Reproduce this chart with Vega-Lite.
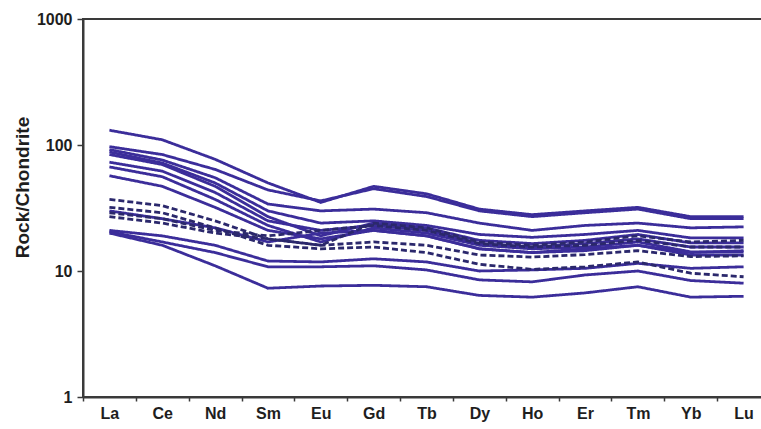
{
  "$schema": "https://vega.github.io/schema/vega-lite/v6.json",
  "width": 687,
  "height": 378,
  "autosize": {"type": "none"},
  "padding": {"left": 83, "top": 19, "right": 0, "bottom": 32},
  "background": "white",
  "config": {
    "view": {"stroke": "#3a3a3a", "strokeWidth": 2},
    "axis": {
      "labelFont": "Liberation Sans",
      "labelFontWeight": "bold",
      "labelFontSize": 16,
      "labelColor": "#1e1e1e",
      "titleFont": "Liberation Sans",
      "titleFontWeight": "bold",
      "titleFontSize": 19,
      "titleColor": "#1e1e1e",
      "domainColor": "#3a3a3a",
      "domainWidth": 2,
      "tickColor": "#3a3a3a",
      "tickWidth": 1.5,
      "grid": false
    }
  },
  "data": {
    "values": [
      {"sample":"A","style":"solid","element":"La","value":131},{"sample":"A","style":"solid","element":"Ce","value":110},{"sample":"A","style":"solid","element":"Nd","value":77},{"sample":"A","style":"solid","element":"Sm","value":50},{"sample":"A","style":"solid","element":"Eu","value":35},{"sample":"A","style":"solid","element":"Gd","value":47},{"sample":"A","style":"solid","element":"Tb","value":41},{"sample":"A","style":"solid","element":"Dy","value":31},{"sample":"A","style":"solid","element":"Ho","value":28},{"sample":"A","style":"solid","element":"Er","value":30},{"sample":"A","style":"solid","element":"Tm","value":32},{"sample":"A","style":"solid","element":"Yb","value":27},{"sample":"A","style":"solid","element":"Lu","value":27},
      {"sample":"B","style":"solid","element":"La","value":97},{"sample":"B","style":"solid","element":"Ce","value":84},{"sample":"B","style":"solid","element":"Nd","value":64},{"sample":"B","style":"solid","element":"Sm","value":44},{"sample":"B","style":"solid","element":"Eu","value":36},{"sample":"B","style":"solid","element":"Gd","value":45},{"sample":"B","style":"solid","element":"Tb","value":39},{"sample":"B","style":"solid","element":"Dy","value":30},{"sample":"B","style":"solid","element":"Ho","value":27},{"sample":"B","style":"solid","element":"Er","value":29},{"sample":"B","style":"solid","element":"Tm","value":31},{"sample":"B","style":"solid","element":"Yb","value":26},{"sample":"B","style":"solid","element":"Lu","value":26},
      {"sample":"C","style":"solid","element":"La","value":92},{"sample":"C","style":"solid","element":"Ce","value":76},{"sample":"C","style":"solid","element":"Nd","value":55},{"sample":"C","style":"solid","element":"Sm","value":34},{"sample":"C","style":"solid","element":"Eu","value":30},{"sample":"C","style":"solid","element":"Gd","value":31},{"sample":"C","style":"solid","element":"Tb","value":29},{"sample":"C","style":"solid","element":"Dy","value":24},{"sample":"C","style":"solid","element":"Ho","value":21},{"sample":"C","style":"solid","element":"Er","value":23},{"sample":"C","style":"solid","element":"Tm","value":24},{"sample":"C","style":"solid","element":"Yb","value":22},{"sample":"C","style":"solid","element":"Lu","value":22.4},
      {"sample":"D","style":"solid","element":"La","value":88},{"sample":"D","style":"solid","element":"Ce","value":72},{"sample":"D","style":"solid","element":"Nd","value":50},{"sample":"D","style":"solid","element":"Sm","value":30},{"sample":"D","style":"solid","element":"Eu","value":24},{"sample":"D","style":"solid","element":"Gd","value":25},{"sample":"D","style":"solid","element":"Tb","value":23},{"sample":"D","style":"solid","element":"Dy","value":19.5},{"sample":"D","style":"solid","element":"Ho","value":18.5},{"sample":"D","style":"solid","element":"Er","value":19.5},{"sample":"D","style":"solid","element":"Tm","value":21},{"sample":"D","style":"solid","element":"Yb","value":18.3},{"sample":"D","style":"solid","element":"Lu","value":18.3},
      {"sample":"E","style":"solid","element":"La","value":84},{"sample":"E","style":"solid","element":"Ce","value":70},{"sample":"E","style":"solid","element":"Nd","value":47},{"sample":"E","style":"solid","element":"Sm","value":27},{"sample":"E","style":"solid","element":"Eu","value":19},{"sample":"E","style":"solid","element":"Gd","value":24},{"sample":"E","style":"solid","element":"Tb","value":22},{"sample":"E","style":"solid","element":"Dy","value":17.5},{"sample":"E","style":"solid","element":"Ho","value":16.5},{"sample":"E","style":"solid","element":"Er","value":17.5},{"sample":"E","style":"solid","element":"Tm","value":19.5},{"sample":"E","style":"solid","element":"Yb","value":16.7},{"sample":"E","style":"solid","element":"Lu","value":16.7},
      {"sample":"F","style":"solid","element":"La","value":73},{"sample":"F","style":"solid","element":"Ce","value":62},{"sample":"F","style":"solid","element":"Nd","value":42},{"sample":"F","style":"solid","element":"Sm","value":25},{"sample":"F","style":"solid","element":"Eu","value":21},{"sample":"F","style":"solid","element":"Gd","value":23},{"sample":"F","style":"solid","element":"Tb","value":21},{"sample":"F","style":"solid","element":"Dy","value":16.5},{"sample":"F","style":"solid","element":"Ho","value":15.5},{"sample":"F","style":"solid","element":"Er","value":16.5},{"sample":"F","style":"solid","element":"Tm","value":18},{"sample":"F","style":"solid","element":"Yb","value":15.5},{"sample":"F","style":"solid","element":"Lu","value":15.5},
      {"sample":"G","style":"solid","element":"La","value":67},{"sample":"G","style":"solid","element":"Ce","value":56},{"sample":"G","style":"solid","element":"Nd","value":37},{"sample":"G","style":"solid","element":"Sm","value":23},{"sample":"G","style":"solid","element":"Eu","value":17},{"sample":"G","style":"solid","element":"Gd","value":22},{"sample":"G","style":"solid","element":"Tb","value":20},{"sample":"G","style":"solid","element":"Dy","value":16},{"sample":"G","style":"solid","element":"Ho","value":15},{"sample":"G","style":"solid","element":"Er","value":15.5},{"sample":"G","style":"solid","element":"Tm","value":17},{"sample":"G","style":"solid","element":"Yb","value":14.2},{"sample":"G","style":"solid","element":"Lu","value":14.2},
      {"sample":"H","style":"solid","element":"La","value":57},{"sample":"H","style":"solid","element":"Ce","value":47},{"sample":"H","style":"solid","element":"Nd","value":32},{"sample":"H","style":"solid","element":"Sm","value":21},{"sample":"H","style":"solid","element":"Eu","value":18},{"sample":"H","style":"solid","element":"Gd","value":21},{"sample":"H","style":"solid","element":"Tb","value":19},{"sample":"H","style":"solid","element":"Dy","value":15},{"sample":"H","style":"solid","element":"Ho","value":14},{"sample":"H","style":"solid","element":"Er","value":15},{"sample":"H","style":"solid","element":"Tm","value":16},{"sample":"H","style":"solid","element":"Yb","value":13.4},{"sample":"H","style":"solid","element":"Lu","value":13.4},
      {"sample":"I","style":"solid","element":"La","value":30},{"sample":"I","style":"solid","element":"Ce","value":26},{"sample":"I","style":"solid","element":"Nd","value":22},{"sample":"I","style":"solid","element":"Sm","value":17},{"sample":"I","style":"solid","element":"Eu","value":20},{"sample":"I","style":"solid","element":"Gd","value":21},{"sample":"I","style":"solid","element":"Tb","value":19},{"sample":"I","style":"solid","element":"Dy","value":15},{"sample":"I","style":"solid","element":"Ho","value":14},{"sample":"I","style":"solid","element":"Er","value":14.5},{"sample":"I","style":"solid","element":"Tm","value":16},{"sample":"I","style":"solid","element":"Yb","value":14},{"sample":"I","style":"solid","element":"Lu","value":14.5},
      {"sample":"J","style":"solid","element":"La","value":21},{"sample":"J","style":"solid","element":"Ce","value":19},{"sample":"J","style":"solid","element":"Nd","value":16},{"sample":"J","style":"solid","element":"Sm","value":12},{"sample":"J","style":"solid","element":"Eu","value":11.8},{"sample":"J","style":"solid","element":"Gd","value":12.5},{"sample":"J","style":"solid","element":"Tb","value":11.8},{"sample":"J","style":"solid","element":"Dy","value":10},{"sample":"J","style":"solid","element":"Ho","value":10.2},{"sample":"J","style":"solid","element":"Er","value":10.5},{"sample":"J","style":"solid","element":"Tm","value":11.5},{"sample":"J","style":"solid","element":"Yb","value":10.5},{"sample":"J","style":"solid","element":"Lu","value":10.8},
      {"sample":"K","style":"solid","element":"La","value":20.5},{"sample":"K","style":"solid","element":"Ce","value":17},{"sample":"K","style":"solid","element":"Nd","value":14},{"sample":"K","style":"solid","element":"Sm","value":10.8},{"sample":"K","style":"solid","element":"Eu","value":10.8},{"sample":"K","style":"solid","element":"Gd","value":11},{"sample":"K","style":"solid","element":"Tb","value":10.2},{"sample":"K","style":"solid","element":"Dy","value":8.5},{"sample":"K","style":"solid","element":"Ho","value":8.2},{"sample":"K","style":"solid","element":"Er","value":9.3},{"sample":"K","style":"solid","element":"Tm","value":10},{"sample":"K","style":"solid","element":"Yb","value":8.4},{"sample":"K","style":"solid","element":"Lu","value":8.0},
      {"sample":"L","style":"solid","element":"La","value":20},{"sample":"L","style":"solid","element":"Ce","value":16},{"sample":"L","style":"solid","element":"Nd","value":11},{"sample":"L","style":"solid","element":"Sm","value":7.3},{"sample":"L","style":"solid","element":"Eu","value":7.6},{"sample":"L","style":"solid","element":"Gd","value":7.7},{"sample":"L","style":"solid","element":"Tb","value":7.5},{"sample":"L","style":"solid","element":"Dy","value":6.4},{"sample":"L","style":"solid","element":"Ho","value":6.2},{"sample":"L","style":"solid","element":"Er","value":6.7},{"sample":"L","style":"solid","element":"Tm","value":7.5},{"sample":"L","style":"solid","element":"Yb","value":6.2},{"sample":"L","style":"solid","element":"Lu","value":6.3},
      {"sample":"M","style":"dashed","element":"La","value":37},{"sample":"M","style":"dashed","element":"Ce","value":33},{"sample":"M","style":"dashed","element":"Nd","value":25},{"sample":"M","style":"dashed","element":"Sm","value":18},{"sample":"M","style":"dashed","element":"Eu","value":16},{"sample":"M","style":"dashed","element":"Gd","value":17},{"sample":"M","style":"dashed","element":"Tb","value":16},{"sample":"M","style":"dashed","element":"Dy","value":13.4},{"sample":"M","style":"dashed","element":"Ho","value":12.9},{"sample":"M","style":"dashed","element":"Er","value":13.5},{"sample":"M","style":"dashed","element":"Tm","value":14.5},{"sample":"M","style":"dashed","element":"Yb","value":13},{"sample":"M","style":"dashed","element":"Lu","value":13.2},
      {"sample":"N","style":"dashed","element":"La","value":32},{"sample":"N","style":"dashed","element":"Ce","value":29},{"sample":"N","style":"dashed","element":"Nd","value":22},{"sample":"N","style":"dashed","element":"Sm","value":16},{"sample":"N","style":"dashed","element":"Eu","value":15},{"sample":"N","style":"dashed","element":"Gd","value":15.5},{"sample":"N","style":"dashed","element":"Tb","value":14},{"sample":"N","style":"dashed","element":"Dy","value":11.3},{"sample":"N","style":"dashed","element":"Ho","value":10.3},{"sample":"N","style":"dashed","element":"Er","value":10.8},{"sample":"N","style":"dashed","element":"Tm","value":11.8},{"sample":"N","style":"dashed","element":"Yb","value":9.6},{"sample":"N","style":"dashed","element":"Lu","value":9.0},
      {"sample":"O","style":"dashed","element":"La","value":29},{"sample":"O","style":"dashed","element":"Ce","value":26},{"sample":"O","style":"dashed","element":"Nd","value":21},{"sample":"O","style":"dashed","element":"Sm","value":19},{"sample":"O","style":"dashed","element":"Eu","value":21},{"sample":"O","style":"dashed","element":"Gd","value":23},{"sample":"O","style":"dashed","element":"Tb","value":21},{"sample":"O","style":"dashed","element":"Dy","value":16.5},{"sample":"O","style":"dashed","element":"Ho","value":15.5},{"sample":"O","style":"dashed","element":"Er","value":16},{"sample":"O","style":"dashed","element":"Tm","value":17.5},{"sample":"O","style":"dashed","element":"Yb","value":15.5},{"sample":"O","style":"dashed","element":"Lu","value":15.5},
      {"sample":"P","style":"dashed","element":"La","value":27},{"sample":"P","style":"dashed","element":"Ce","value":24},{"sample":"P","style":"dashed","element":"Nd","value":20},{"sample":"P","style":"dashed","element":"Sm","value":18},{"sample":"P","style":"dashed","element":"Eu","value":16},{"sample":"P","style":"dashed","element":"Gd","value":24},{"sample":"P","style":"dashed","element":"Tb","value":22},{"sample":"P","style":"dashed","element":"Dy","value":17},{"sample":"P","style":"dashed","element":"Ho","value":16},{"sample":"P","style":"dashed","element":"Er","value":17},{"sample":"P","style":"dashed","element":"Tm","value":19},{"sample":"P","style":"dashed","element":"Yb","value":17},{"sample":"P","style":"dashed","element":"Lu","value":17.5}
    ]
  },
  "mark": {"type": "line", "strokeWidth": 2.8},
  "encoding": {
    "x": {
      "field": "element",
      "type": "nominal",
      "bandPosition": 0.5,
      "scale": {"type": "band", "domain": ["La","Ce","Nd","Sm","Eu","Gd","Tb","Dy","Ho","Er","Tm","Yb","Lu"], "paddingInner": 0, "paddingOuter": 0},
      "axis": {"title": null, "labelAngle": 0, "tickBand": "extent", "tickSize": 4, "labelPadding": 4}
    },
    "y": {
      "field": "value",
      "type": "quantitative",
      "scale": {"type": "log", "domain": [1, 1000]},
      "axis": {"title": "Rock/Chondrite", "values": [1, 10, 100, 1000], "format": "d", "tickSize": 6, "labelPadding": 5, "titleX": -51, "titleY": 168, "titleBaseline": "bottom", "titleAngle": 270}
    },
    "detail": {"field": "sample"},
    "strokeDash": {"field": "style", "type": "nominal", "scale": {"domain": ["solid","dashed"], "range": [[1,0],[6,3]]}, "legend": null},
    "color": {"field": "style", "type": "nominal", "scale": {"domain": ["solid","dashed"], "range": ["#3b2d9a","#2b286c"]}, "legend": null}
  }
}
